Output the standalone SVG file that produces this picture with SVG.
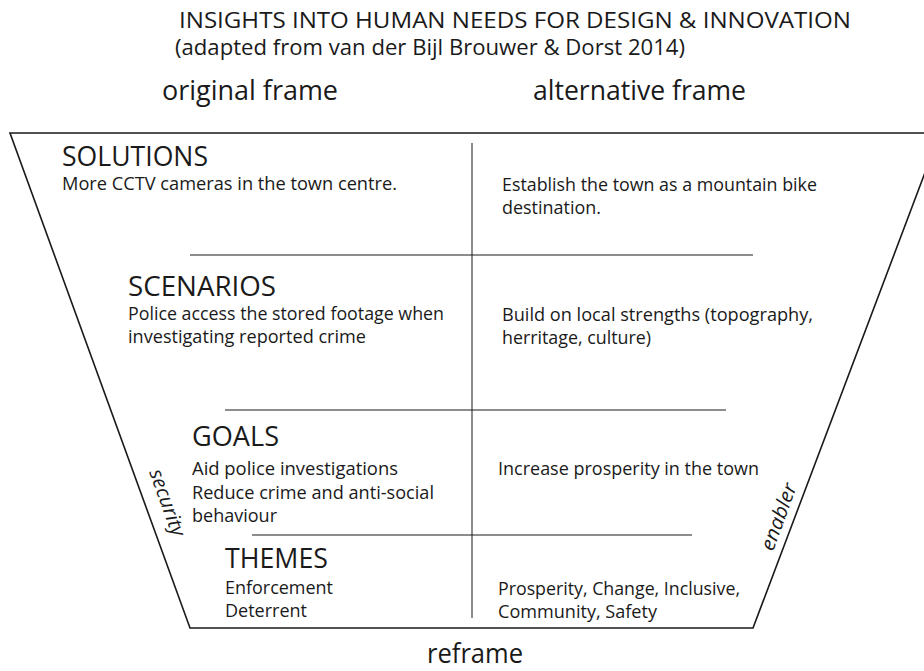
<svg xmlns="http://www.w3.org/2000/svg" width="924" height="671" viewBox="0 0 924 671">
<style>
text{font-family:"Open Sans","Liberation Sans",sans-serif;fill:#1a1a1a}
.t{font-size:21px}
.h{font-size:28px}
.f{font-size:28px}
.b{font-size:18px}
.s{font-size:20px;font-style:italic}
.ln{stroke:#1a1a1a;stroke-width:1;fill:none}
.fr{stroke:#1a1a1a;stroke-width:1.6;fill:none;stroke-linejoin:miter}
</style>
<rect width="924" height="671" fill="#fff"/>
<g id="title">
<text class="t" x="179" y="28" textLength="672" lengthAdjust="spacingAndGlyphs">INSIGHTS INTO HUMAN NEEDS FOR DESIGN &amp; INNOVATION</text>
<text class="t" x="175" y="55" textLength="510" lengthAdjust="spacingAndGlyphs">(adapted from van der Bijl Brouwer &amp; Dorst 2014)</text>
</g>
<g id="frames">
<text class="f" x="162" y="100" textLength="176" lengthAdjust="spacingAndGlyphs">original frame</text>
<text class="f" x="533" y="100" textLength="213" lengthAdjust="spacingAndGlyphs">alternative frame</text>
</g>
<g id="connectors">
<polygon class="fr" points="10,133 940,133 753,628 190,628"/>
<line class="ln" x1="472" y1="143" x2="472" y2="618"/>
<line class="ln" x1="190" y1="255" x2="753" y2="255"/>
<line class="ln" x1="225" y1="410" x2="726" y2="410"/>
<line class="ln" x1="252" y1="535" x2="692" y2="535"/>
</g>
<g id="solutions">
<text class="h" x="62" y="166" textLength="146" lengthAdjust="spacingAndGlyphs">SOLUTIONS</text>
<text class="b" x="62" y="190" textLength="335" lengthAdjust="spacingAndGlyphs">More CCTV cameras in the town centre.</text>
<text class="b" x="502" y="191" textLength="315" lengthAdjust="spacingAndGlyphs">Establish the town as a mountain bike</text>
<text class="b" x="502" y="214" textLength="99" lengthAdjust="spacingAndGlyphs">destination.</text>
</g>
<g id="scenarios">
<text class="h" x="128" y="296" textLength="148" lengthAdjust="spacingAndGlyphs">SCENARIOS</text>
<text class="b" x="128" y="320" textLength="316" lengthAdjust="spacingAndGlyphs">Police access the stored footage when</text>
<text class="b" x="128" y="343" textLength="238" lengthAdjust="spacingAndGlyphs">investigating reported crime</text>
<text class="b" x="502" y="321" textLength="311" lengthAdjust="spacingAndGlyphs">Build on local strengths (topography,</text>
<text class="b" x="502" y="344" textLength="149" lengthAdjust="spacingAndGlyphs">herritage, culture)</text>
</g>
<g id="goals">
<text class="h" x="192" y="446" textLength="87" lengthAdjust="spacingAndGlyphs">GOALS</text>
<text class="b" x="192" y="475" textLength="206" lengthAdjust="spacingAndGlyphs">Aid police investigations</text>
<text class="b" x="192" y="499" textLength="242" lengthAdjust="spacingAndGlyphs">Reduce crime and anti-social</text>
<text class="b" x="192" y="522" textLength="85" lengthAdjust="spacingAndGlyphs">behaviour</text>
<text class="b" x="498" y="475" textLength="261" lengthAdjust="spacingAndGlyphs">Increase prosperity in the town</text>
</g>
<g id="themes">
<text class="h" x="225" y="568" textLength="103" lengthAdjust="spacingAndGlyphs">THEMES</text>
<text class="b" x="225" y="594" textLength="108" lengthAdjust="spacingAndGlyphs">Enforcement</text>
<text class="b" x="225" y="617" textLength="82" lengthAdjust="spacingAndGlyphs">Deterrent</text>
<text class="b" x="498" y="595" textLength="242" lengthAdjust="spacingAndGlyphs">Prosperity, Change, Inclusive,</text>
<text class="b" x="498" y="618" textLength="159" lengthAdjust="spacingAndGlyphs">Community, Safety</text>
</g>
<g id="sides">
<text class="s" transform="translate(149,472) rotate(70)" textLength="70" lengthAdjust="spacingAndGlyphs">security</text>
<text class="s" transform="translate(773,552) rotate(-70)" textLength="70" lengthAdjust="spacingAndGlyphs">enabler</text>
</g>
<g id="reframe">
<text class="f" x="427" y="663" textLength="96" lengthAdjust="spacingAndGlyphs">reframe</text>
</g>
</svg>
